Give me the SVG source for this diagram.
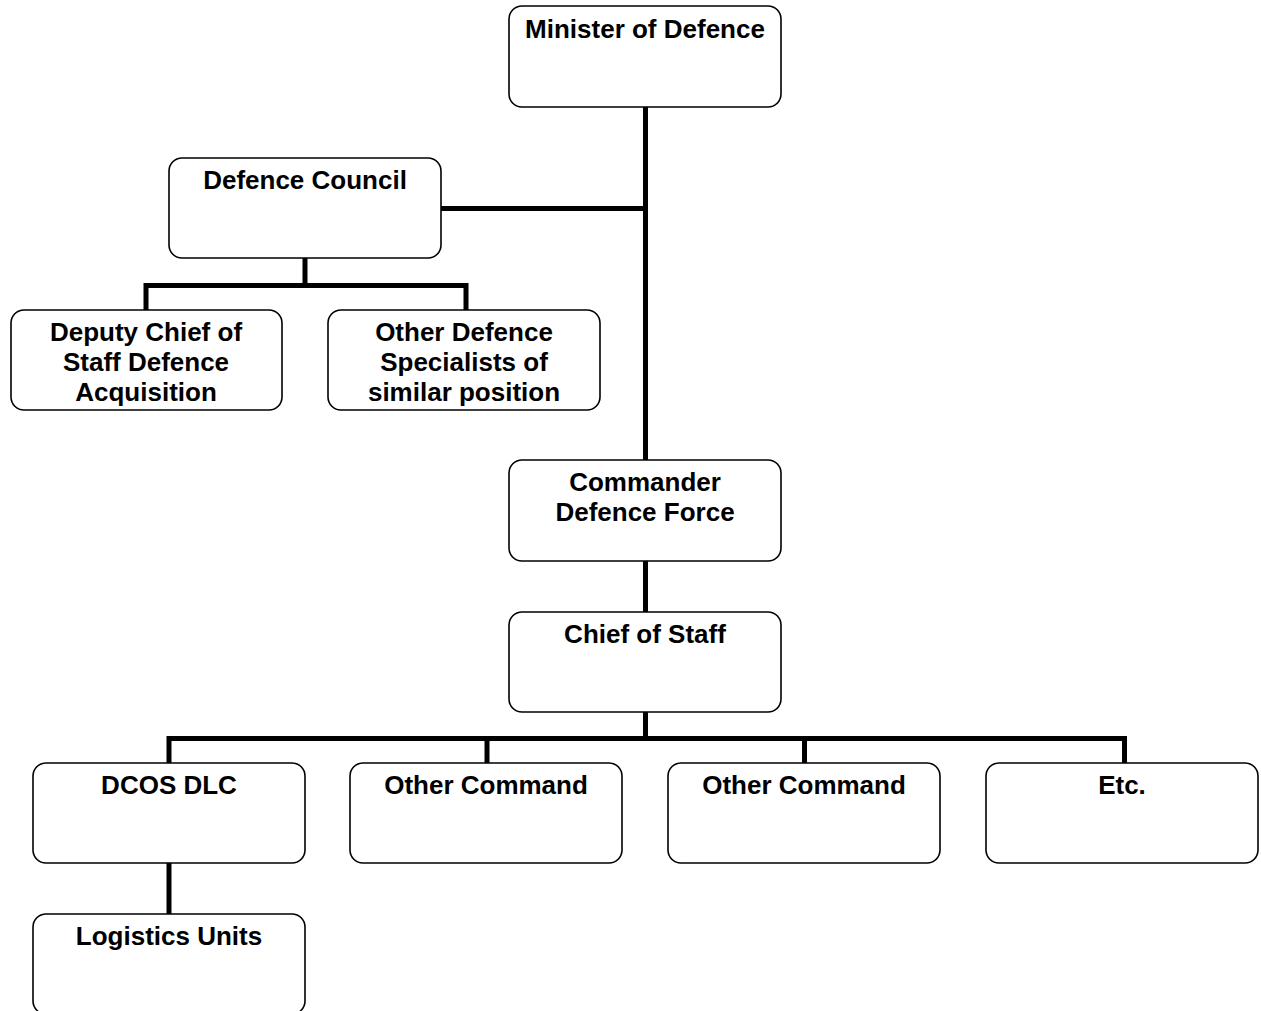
<svg xmlns="http://www.w3.org/2000/svg" width="1261" height="1011" viewBox="0 0 1261 1011">
<style>
.box{fill:#fff;stroke:#000;stroke-width:1.6}
.t{font-family:"Liberation Sans",Arial,sans-serif;font-weight:bold;font-size:26px;text-anchor:middle;fill:#000}
.c{fill:none;stroke:#000;stroke-width:5;stroke-linecap:butt;stroke-linejoin:miter}
</style>
<rect width="1261" height="1011" fill="#fff"/>
<g id="connectors">
<path class="c" d="M645.5 107 V461"/>
<path class="c" d="M441 208.5 H645.5"/>
<path class="c" d="M305 258 V285.5 M146 310 V285.5 H466 V310"/>
<path class="c" d="M645.5 561 V612"/>
<path class="c" d="M645.5 712 V738.5 M169 763 V738.5 H1124.5 V763 M487 738.5 V763 M804.5 738.5 V763"/>
<path class="c" d="M169 863 V914"/>
</g>
<g id="minister"><rect class="box" x="509" y="6" width="272" height="101" rx="13"/><text class="t" x="645" y="38">Minister of Defence</text></g>
<g id="council"><rect class="box" x="169" y="158" width="272" height="100" rx="13"/><text class="t" x="305" y="189">Defence Council</text></g>
<g id="deputy"><rect class="box" x="11" y="310" width="271" height="100" rx="13"/><text class="t" x="146" y="341">Deputy Chief of</text><text class="t" x="146" y="371">Staff Defence</text><text class="t" x="146" y="401">Acquisition</text></g>
<g id="specialists"><rect class="box" x="328" y="310" width="272" height="100" rx="13"/><text class="t" x="464" y="341">Other Defence</text><text class="t" x="464" y="371">Specialists of</text><text class="t" x="464" y="401">similar position</text></g>
<g id="commander"><rect class="box" x="509" y="460" width="272" height="101" rx="13"/><text class="t" x="645" y="491">Commander</text><text class="t" x="645" y="521">Defence Force</text></g>
<g id="chief"><rect class="box" x="509" y="612" width="272" height="100" rx="13"/><text class="t" x="645" y="643">Chief of Staff</text></g>
<g id="dcos"><rect class="box" x="33" y="763" width="272" height="100" rx="13"/><text class="t" x="169" y="794">DCOS DLC</text></g>
<g id="other1"><rect class="box" x="350" y="763" width="272" height="100" rx="13"/><text class="t" x="486" y="794">Other Command</text></g>
<g id="other2"><rect class="box" x="668" y="763" width="272" height="100" rx="13"/><text class="t" x="804" y="794">Other Command</text></g>
<g id="etc"><rect class="box" x="986" y="763" width="272" height="100" rx="13"/><text class="t" x="1122" y="794">Etc.</text></g>
<g id="logistics"><rect class="box" x="33" y="914" width="272" height="100" rx="13"/><text class="t" x="169" y="945">Logistics Units</text></g>
</svg>
